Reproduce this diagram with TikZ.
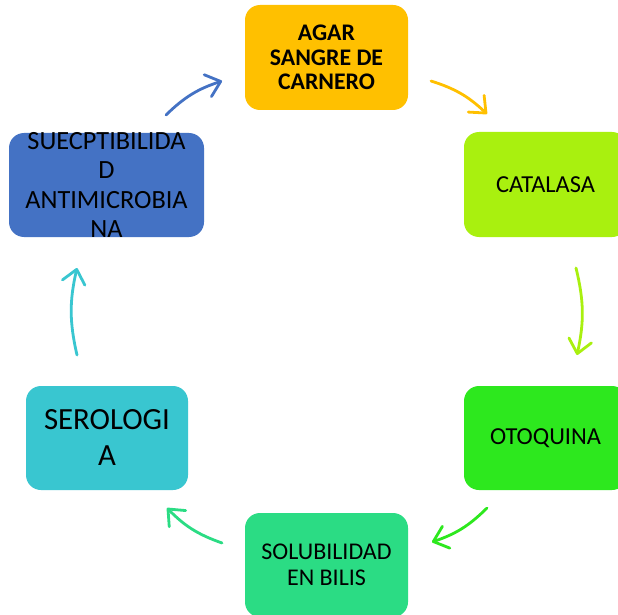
\documentclass[tikz,border=0pt]{standalone}
\usepackage{fontspec}
\setmainfont{Carlito}
\usetikzlibrary{arrows.meta}
\definecolor{cagar}{HTML}{FFC000}
\definecolor{ccat}{HTML}{A9F00F}
\definecolor{coto}{HTML}{2DE81E}
\definecolor{csol}{HTML}{2BDC84}
\definecolor{cser}{HTML}{39C6D0}
\definecolor{csus}{HTML}{4472C4}
\tikzset{
  box/.style={rectangle, rounded corners=15pt, draw=none, inner sep=0pt},
  txt/.style={inner sep=0pt, align=center, text=black},
  cyc/.style={line width=2.8pt, line cap=round, -{Straight Barb[length=13.5pt,width=23pt,line cap=round,line join=round]}, bend left=13},
}
\begin{document}
\begin{tikzpicture}[x=1pt,y=-1pt]
\clip (0,0) rectangle (618,615);
\fill[white] (0,0) rectangle (618,615);
% boxes
\node[box, fill=cagar, minimum width=163pt, minimum height=105pt] (agar) at (326.5,57.5) {};
\node[box, fill=ccat, minimum width=163pt, minimum height=105pt] (cat) at (545.5,184.5) {};
\node[box, fill=coto, minimum width=163pt, minimum height=104pt] (oto) at (545.5,438) {};
\node[box, fill=csol, minimum width=163pt, minimum height=104pt] (sol) at (326.5,565) {};
\node[box, fill=cser, minimum width=162pt, minimum height=104pt] (ser) at (107,438) {};
\node[box, fill=csus, minimum width=195pt, minimum height=104pt] (sus) at (106.5,185) {};
% texts
\node[txt, font=\bfseries\fontsize{23.8}{24.5}\selectfont] (tagar) at (agar) {AGAR\\SANGRE DE\\CARNERO};
\node[txt, font=\fontsize{24.4}{26}\selectfont] (tcat) at (cat) {CATALASA};
\node[txt, font=\fontsize{24.4}{26}\selectfont] (toto) at (oto) {OTOQUINA};
\node[txt, font=\fontsize{24}{26}\selectfont] (tsol) at (sol) {SOLUBILIDAD\\EN BILIS};
\node[txt, font=\fontsize{30.8}{36}\selectfont] (tser) at (ser) {SEROLOGI\\A};
\node[txt, font=\fontsize{26.3}{29.3}\selectfont] (tsus) at (sus) {SUECPTIBILIDA\\D\\ANTIMICROBIA\\NA};
% arrow ends
\coordinate (a1s) at (431,81);  \coordinate (a1e) at (487,114);
\coordinate (a2s) at (576,268); \coordinate (a2e) at (577,355);
\coordinate (a3s) at (487,508); \coordinate (a3e) at (432,542);
\coordinate (a4s) at (222,543); \coordinate (a4e) at (167,508);
\coordinate (a5s) at (77,355);  \coordinate (a5e) at (77,268);
\coordinate (a6s) at (166,115); \coordinate (a6e) at (222,81);
\draw[cyc, draw=cagar] (a1s) to (a1e);
\draw[cyc, draw=ccat] (a2s) to (a2e);
\draw[cyc, draw=coto] (a3s) to (a3e);
\draw[cyc, draw=csol] (a4s) to (a4e);
\draw[cyc, draw=cser] (a5s) to (a5e);
\draw[cyc, draw=csus] (a6s) to (a6e);
\end{tikzpicture}
\end{document}
